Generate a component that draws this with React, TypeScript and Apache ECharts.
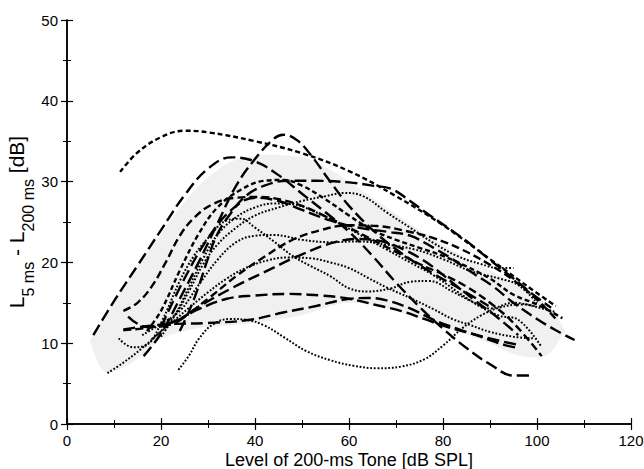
import React, { useEffect, useRef } from "react";
import * as echarts from "echarts";

// ---------- data ----------
const xTicks = [0, 20, 40, 60, 80, 100, 120];
const yTicks = [0, 10, 20, 30, 40, 50];

const bandUpper = [[5, 10.5], [10, 15], [15, 19.5], [20, 23.5], [25, 27.5], [30, 30.5], [35, 32.5], [40, 33.2], [45, 33.3], [50, 33], [55, 31.8], [60, 30], [65, 28], [70, 26], [75, 24], [80, 22.2], [85, 20.5], [90, 19], [95, 17.5], [100, 15.8], [104, 13.5], [106, 11.5]];
const bandLower = [[5, 10], [8, 6.5], [12, 7], [16, 8.5], [20, 10.5], [25, 11.5], [30, 12], [40, 12.5], [50, 13.5], [60, 15], [70, 14], [80, 12], [90, 10], [96, 8.5], [102, 8.5], [106, 11.5]];

const curveA = [[11.3, 31.2], [15, 33.6], [20, 35.5], [25, 36.3], [30, 36.1], [40, 35], [50, 33.5], [60, 31.3], [70, 28.2], [80, 24.6], [90, 20.4], [100, 16.2], [104, 14.6]];
const curveB = [[16.3, 8.4], [20, 11.2], [24, 15.5], [28, 20], [32, 24.8], [36, 29.5], [40, 32.8], [44, 35.3], [46, 35.8], [49, 35.1], [52, 33.2], [56, 30], [60, 27], [66, 23.5], [72, 20.8], [78, 18.6], [84, 16.6], [89.7, 14.6]];
const curveC = [[5.6, 11], [10, 15.2], [15, 19.6], [20, 24], [25, 28.3], [30, 31.6], [35, 33], [40, 32.5], [45, 30.8], [50, 28.5], [55, 26.2], [60, 23.8], [65, 20.8], [70, 17.5], [75, 14.5], [80, 11.8], [85, 9.4], [90, 7.4], [95, 6], [98.5, 6]];
const curveD = [[12, 14], [15, 15], [18, 17], [21, 20], [24, 23.3], [27, 25.5], [31, 27.2], [36, 28], [41, 28.1], [46, 27.7], [50, 27], [55, 25.7], [60, 24.3], [65, 22.8], [70, 21.3], [75, 19.8], [80, 18.5], [85, 17], [90, 15], [95, 12.5], [101, 8.4]];
const curveE = [[24, 11.5], [26, 14], [28, 17], [30, 20.5], [32, 23.5], [35, 26.2], [38, 28.2], [42, 29.5], [47, 30.1], [53, 30.1], [60, 29.9], [65, 29.5], [69, 29.1], [73, 27.6], [77, 25.9], [82, 23.9], [86, 22.2], [90, 20.3], [95, 18], [99, 16.1], [103, 14.4]];
const curveF = [[17, 11.5], [20, 14], [24, 19], [28, 23.5], [32, 26.8], [37, 29], [42, 30.1], [46, 30.2], [50, 29.5], [55, 27.8], [60, 25.8], [65, 24], [70, 22.8], [75, 21.8], [80, 20.8], [85, 19.5], [90, 18], [95, 16], [100, 14.8], [105.4, 13.1]];
const curveG = [[16, 12], [22, 12.5], [28, 14.2], [34, 15.5], [40, 15.9], [47, 16.1], [54, 15.9], [60, 15.5], [66, 14.7], [71, 14], [76, 13], [81, 12], [86, 11.2], [92, 10.3], [96, 9.8]];
const curveH = [[12, 11.7], [20, 12.3], [30, 12.5], [39, 12.9], [46, 13.8], [53, 14.6], [59, 15.4], [64, 15.6], [68, 15.3], [73, 14.3], [78, 12.9], [83, 11.8], [88, 10.8], [93, 9.8], [96, 9.4]];
const curveI = [[13, 13.3], [17, 12], [22, 12.3], [28, 14.5], [35, 16.8], [42, 18.8], [50, 21], [57, 22.5], [62, 22.9], [67, 22.6], [72, 21.5], [77, 19.8], [82, 17.5], [87, 15.2], [92, 13], [96, 11]];
const curveJ = [[12, 11.6], [18, 12], [24, 13], [30, 15.5], [36, 18.3], [42, 20.7], [48, 22.8], [54, 24], [60, 24.6], [66, 24.5], [72, 23.9], [78, 23], [84, 21.6], [90, 19.7], [95, 17.8], [100, 15.4], [104, 13]];
const curveK = [[20, 12], [25, 18], [30, 23], [35, 26.5], [40, 28], [45, 27.6], [50, 26.5], [56, 25.2], [62, 24.3], [68, 23.8], [73, 23.3], [78, 21.8], [82, 20.4], [86, 18.8], [90.5, 17.1], [95, 15], [100, 13], [104, 11.6], [108, 10.4]];

const dotted1 = [[23.7, 6.7], [26, 8.5], [28, 10.5], [31, 12.3], [34.6, 13], [38, 12.9], [42, 12.2], [46, 10.8], [51, 9], [56, 7.9], [61, 7.2], [66, 6.9], [71, 7.1], [76, 8], [80, 9.7], [84, 11.8], [88, 13.4], [92, 14.4], [97, 14.8], [101, 14.3], [103.7, 13.9]];
const dotted2 = [[8.6, 6.3], [12, 7.6], [16, 9.4], [20, 11.5], [23, 13.5], [26, 16.5], [29, 19.8], [32, 22.2], [36, 24.3], [40, 25.8], [45, 26.8], [50, 27.6], [55, 28.2], [59, 28.6], [63, 28.2], [68, 26.2], [73, 24.3], [78, 22.4], [83, 20.8], [88, 19.8], [92, 19.3], [95, 19.3]];
const dotted3 = [[11, 10.6], [14, 9.5], [17, 9.8], [20, 12.5], [24, 17.7], [27, 20.8], [30, 23], [34, 25.2], [37, 25.4], [40, 24.3], [44, 22.6], [48, 20.8], [52, 19.5], [56, 18.3], [60, 16.8], [64, 16.4], [69, 16.8], [73, 17.6], [77, 17.7], [82, 16.4], [86, 15.2], [90, 14.3], [95, 15], [100, 14.5]];
const dotted4 = [[16, 11], [20, 12.4], [24, 14], [28, 17.2], [32, 20.3], [36, 22.5], [40, 23.3], [44, 23.4], [50, 22.8], [56, 22.5], [62, 22.6], [68, 22.2], [74, 21.6], [80, 20.4], [86, 18.9], [92, 18], [96, 17.2], [100, 15]];
const dotted5 = [[18, 10.5], [22, 12.4], [26, 14.4], [30, 16.3], [34, 18], [38, 19.3], [43, 20.3], [47, 20.6], [52, 20.5], [56, 20], [60, 19.3], [64, 18.1], [68, 16.9], [73, 15.6], [78, 14.2], [82, 13], [86, 12.2], [90, 11.4], [95, 10.8], [99.3, 10.6]];
const dotted6 = [[20, 10.8], [23, 13.5], [26, 17], [29, 20.5], [32, 23.4], [36, 25.6], [40, 26.8], [44, 27.3], [48, 27.2], [53, 26.2], [58, 24.8], [63, 23.2], [68, 21.6], [73, 20], [78, 18.4], [83, 16.4], [88, 14.5], [92, 13.4], [96, 12.9], [101, 9.5]];

const curves = [curveA, curveB, curveC, curveD, curveE, curveF, curveG, curveH, curveI, curveJ, curveK];
const curveDash = ["short", "long", "long", "medium", "long", "short", "long", "long", "long", "medium", "long"];
const dottedCurves = [dotted1, dotted2, dotted3, dotted4, dotted5, dotted6];

const dashPatterns: Record<string, number[]> = {
  short: [5, 3],
  medium: [8, 4],
  long: [12, 5],
};

export default function App() {
  const ref = useRef<HTMLDivElement>(null);
  useEffect(() => {
    if (!ref.current) return;
    const chart = echarts.init(ref.current, undefined, { renderer: "svg" });
    const font = "'Liberation Sans', Arial, Helvetica, sans-serif";
    const axisCommon = {
      min: 0,
      axisLine: { show: true, lineStyle: { color: "#000", width: 1.5 } },
      axisTick: { show: true, inside: true, length: 6, lineStyle: { color: "#000", width: 1.2 } },
      minorTick: { show: true, splitNumber: 2, length: 4, lineStyle: { color: "#000", width: 1 } },
      splitLine: { show: false },
    };
    const series: any[] = [
      {
        type: "custom",
        coordinateSystem: "cartesian2d",
        silent: true,
        z: 1,
        data: [[60, 20]],
        renderItem: (_p: any, api: any) => {
          const pts = bandUpper.map((p) => api.coord(p)).concat(
            bandLower.slice().reverse().map((p) => api.coord(p))
          );
          return {
            type: "polygon",
            shape: { points: pts, smooth: 0.35 },
            style: { fill: "#f0f0f0", stroke: "none" },
          };
        },
      },
    ];
    curves.forEach((c, i) => {
      series.push({
        type: "line",
        data: c,
        smooth: 0.4,
        showSymbol: false,
        silent: true,
        z: 3,
        lineStyle: { color: "#000", width: 2.4, type: dashPatterns[curveDash[i]] },
      });
    });
    dottedCurves.forEach((c) => {
      series.push({
        type: "line",
        data: c,
        smooth: 0.4,
        showSymbol: false,
        silent: true,
        z: 2,
        lineStyle: { color: "#000", width: 2, type: [1.8, 1.8] },
      });
    });

    chart.setOption({
      animation: false,
      backgroundColor: "#fff",
      grid: { left: 67, right: 13, top: 20, bottom: 45, containLabel: false, outerBoundsMode: "none" },
      xAxis: [
        {
          ...axisCommon,
          type: "value",
          position: "bottom",
          max: xTicks[xTicks.length - 1],
          interval: 20,
          axisLabel: { color: "#000", fontSize: 15, fontFamily: font, margin: 9 },
          name: "Level of 200-ms Tone [dB SPL]",
          nameLocation: "middle",
          nameGap: 27,
          nameMoveOverlap: false,
          nameTextStyle: { color: "#000", fontSize: 18, lineHeight: 18, fontFamily: font },
        },
        {
          ...axisCommon,
          type: "value",
          position: "top",
          max: xTicks[xTicks.length - 1],
          interval: 20,
          axisLabel: { show: false },
        },
      ],
      yAxis: [
        {
          ...axisCommon,
          type: "value",
          position: "left",
          max: yTicks[yTicks.length - 1],
          interval: 10,
          axisLabel: { color: "#000", fontSize: 15, fontFamily: font, margin: 9 },
          name: "{a|L}{s|5 ms}{a| - L}{s|200 ms}{a| [dB]}",
          nameLocation: "middle",
          nameGap: 40,
          nameRotate: 90,
          nameMoveOverlap: false,
          nameTextStyle: {
            color: "#000",
            fontFamily: font,
            rich: {
              a: { fontSize: 21, fontFamily: font, color: "#000", lineHeight: 28, verticalAlign: "bottom" },
              s: { fontSize: 16, fontFamily: font, color: "#000", lineHeight: 28, verticalAlign: "bottom", padding: [0, 0, -9, 0] },
            },
          },
        },
        {
          ...axisCommon,
          type: "value",
          position: "right",
          max: yTicks[yTicks.length - 1],
          interval: 10,
          axisLabel: { show: false },
        },
      ],
      series,
    });
    return () => chart.dispose();
  }, []);
  return (
    <div
      ref={ref}
      style={{ position: "fixed", left: 0, top: 0, width: 644, height: 469, background: "#fff" }}
    />
  );
}
